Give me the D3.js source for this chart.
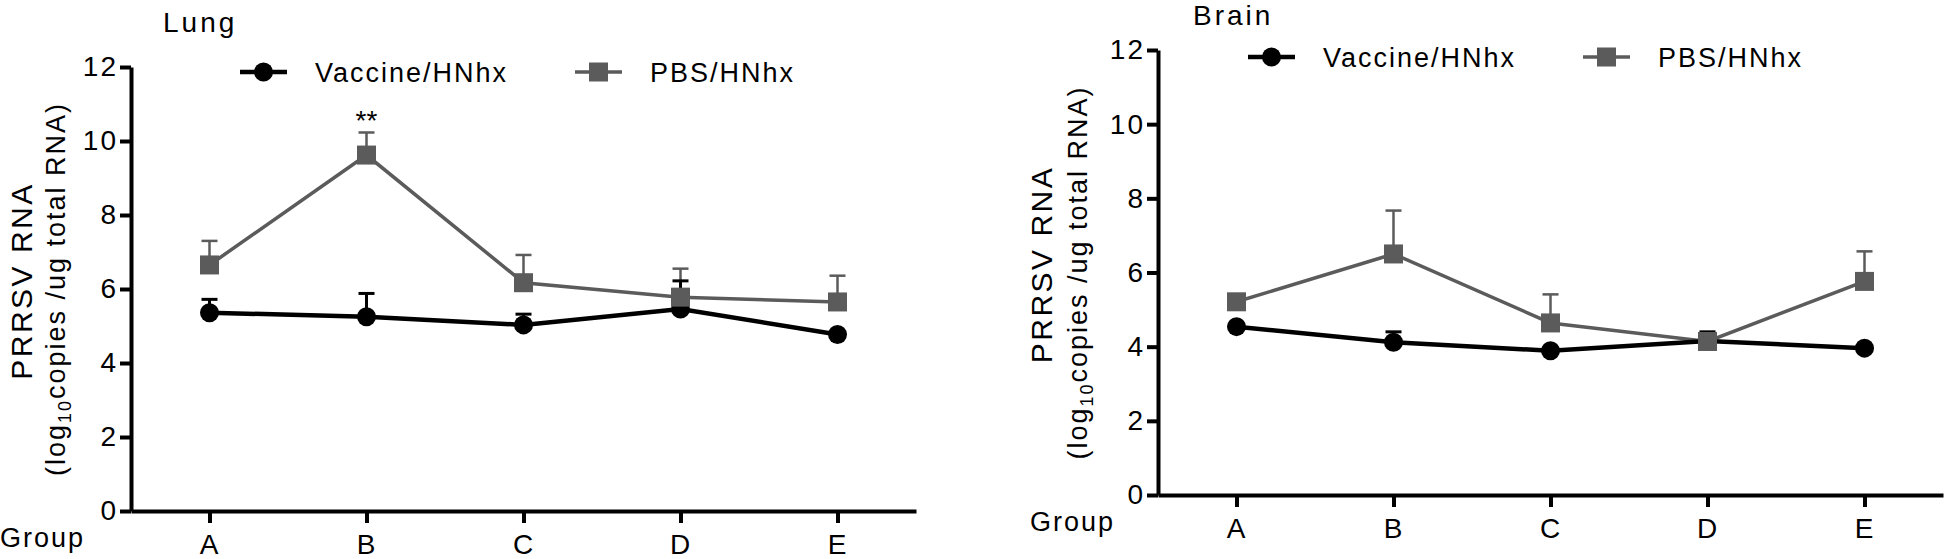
<!DOCTYPE html>
<html>
<head>
<meta charset="utf-8">
<script src="https://cdn.jsdelivr.net/npm/d3@7"></script>
<style>
  body { margin: 0; background: #fff; }
  text { font-family: "Liberation Sans", Arial, sans-serif; fill: #000; }
</style>
</head>
<body>
<div id="chart"></div>
<script>
// groups on the x axis
var groups = ["A", "B", "C", "D", "E"];
var yTicks = [0, 2, 4, 6, 8, 10, 12];
var seriesNames = ["Vaccine/HNhx", "PBS/HNhx"];

// lung values (mean and upper error)
var lungVaccine = [5.36, 5.25, 5.03, 5.46, 4.77];
var lungVaccineErr = [0.36, 0.63, 0.29, 0.76, 0.05];
var lungPBS = [6.65, 9.62, 6.17, 5.78, 5.65];
var lungPBSErr = [0.65, 0.61, 0.75, 0.77, 0.71];

// brain values
var brainVaccine = [4.54, 4.12, 3.89, 4.15, 3.96];
var brainVaccineErr = [0.05, 0.28, 0.05, 0.25, 0.05];
var brainPBS = [5.21, 6.50, 4.64, 4.14, 5.76];
var brainPBSErr = [0.1, 1.17, 0.77, 0.1, 0.81];

var grey = "#5b5b5b";
var fs = 27, ls = "2px";

var svg = d3.select("#chart").append("svg")
    .attr("width", 1946)
    .attr("height", 559);

function drawPanel(p) {
  var g = svg.append("g");

  var x = d3.scalePoint().domain(groups).range([p.left, p.right]).padding(0.5);
  var y = d3.scaleLinear().domain([0, 12]).range([p.bottom, p.top]);

  // y axis
  var yAx = g.append("g")
      .attr("transform", `translate(${p.left},0)`)
      .call(d3.axisLeft(y).tickValues(yTicks).tickSize(11).tickSizeOuter(0).tickPadding(2));
  // x axis
  var xAx = g.append("g")
      .attr("transform", `translate(0,${p.bottom})`)
      .call(d3.axisBottom(x).tickSize(12).tickSizeOuter(0).tickPadding(11));

  [yAx, xAx].forEach(function(ax) {
    ax.select(".domain").attr("stroke", "#000").attr("stroke-width", 4);
    ax.selectAll(".tick line").attr("stroke", "#000").attr("stroke-width", 4);
    ax.selectAll(".tick text")
      .attr("font-size", 28)
      .style("letter-spacing", ls)
      .attr("fill", "#000");
  });

  var series = [
    {name: seriesNames[0], vals: p.vaccine, err: p.vaccineErr, color: "#000", lw: 4.5, ew: 3, shape: "circle"},
    {name: seriesNames[1], vals: p.pbs, err: p.pbsErr, color: grey, lw: 3.5, ew: 2.5, shape: "square"}
  ];

  var line = d3.line().x((d, i) => x(groups[i])).y(d => y(d));

  // lines
  series.slice().reverse().forEach(function(s) {
    g.append("path")
      .datum(s.vals)
      .attr("d", line)
      .attr("fill", "none")
      .attr("stroke", s.color)
      .attr("stroke-width", s.lw);
  });

  // error bars (upper only)
  series.slice().reverse().forEach(function(s) {
    var eb = g.append("g");
    eb.selectAll("line.v")
      .data(s.vals)
      .enter().append("line")
      .attr("x1", (d, i) => x(groups[i]))
      .attr("x2", (d, i) => x(groups[i]))
      .attr("y1", d => y(d))
      .attr("y2", (d, i) => y(d + s.err[i]))
      .attr("stroke", s.color)
      .attr("stroke-width", s.ew);
    eb.selectAll("line.cap")
      .data(s.vals)
      .enter().append("line")
      .attr("x1", (d, i) => x(groups[i]) - 8)
      .attr("x2", (d, i) => x(groups[i]) + 8)
      .attr("y1", (d, i) => y(d + s.err[i]))
      .attr("y2", (d, i) => y(d + s.err[i]))
      .attr("stroke", s.color)
      .attr("stroke-width", s.ew);
  });

  // markers
  g.selectAll("circle.pt")
    .data(series[0].vals)
    .enter().append("circle")
    .attr("cx", (d, i) => x(groups[i]))
    .attr("cy", d => y(d))
    .attr("r", 9.5)
    .attr("fill", "#000");
  g.selectAll("rect.pt")
    .data(series[1].vals)
    .enter().append("rect")
    .attr("x", (d, i) => x(groups[i]) - 9.5)
    .attr("y", d => y(d) - 9.5)
    .attr("width", 19)
    .attr("height", 19)
    .attr("fill", grey);

  // significance mark
  if (p.star != null) {
    var i = p.star;
    g.append("text")
      .attr("x", x(groups[i]))
      .attr("y", y(p.pbs[i] + p.pbsErr[i]) - 2)
      .attr("text-anchor", "middle")
      .attr("font-size", 28)
      .text("**");
  }

  // title
  g.append("text")
    .attr("x", p.titleX)
    .attr("y", p.titleY)
    .attr("font-size", 28)
    .style("letter-spacing", "3px")
    .text(p.title);

  // Group label
  g.append("text")
    .attr("x", p.groupX)
    .attr("y", p.bottom + 36)
    .attr("font-size", fs)
    .style("letter-spacing", ls)
    .text("Group");

  // y axis label, two lines
  var cy = (p.top + p.bottom) / 2;
  g.append("text")
    .attr("transform", `translate(${p.left + p.lab1},${cy - 8}) rotate(-90)`)
    .attr("text-anchor", "middle")
    .attr("font-size", 30)
    .style("letter-spacing", "2.5px")
    .text("PRRSV RNA");
  var t2 = g.append("text")
    .attr("transform", `translate(${p.left + p.lab2},${cy}) rotate(-90)`)
    .attr("text-anchor", "middle")
    .attr("font-size", fs)
    .style("letter-spacing", ls);
  t2.append("tspan").text("(log");
  t2.append("tspan").attr("font-size", 18).attr("dy", 6).text("10");
  t2.append("tspan").attr("dy", -6).text("copies /ug total RNA)");

  // legend
  var lg = g.append("g").attr("transform", `translate(0,${p.legY})`);
  var lx = [p.leg1, p.leg2];
  series.forEach(function(s, k) {
    lg.append("line")
      .attr("x1", lx[k]).attr("x2", lx[k] + 47)
      .attr("stroke", s.color)
      .attr("stroke-width", s.lw);
    if (s.shape == "circle") {
      lg.append("circle").attr("cx", lx[k] + 23.5).attr("r", 9.5).attr("fill", s.color);
    } else {
      lg.append("rect").attr("x", lx[k] + 14).attr("y", -9.5)
        .attr("width", 19).attr("height", 19).attr("fill", s.color);
    }
    lg.append("text")
      .attr("x", lx[k] + 75)
      .attr("y", 10)
      .attr("font-size", fs)
      .style("letter-spacing", ls)
      .text(s.name);
  });
}

drawPanel({
  left: 131, right: 916, top: 67, bottom: 511,
  vaccine: lungVaccine, vaccineErr: lungVaccineErr,
  pbs: lungPBS, pbsErr: lungPBSErr,
  star: 1,
  title: "Lung", titleX: 163, titleY: 32,
  groupX: 0,
  lab1: -99, lab2: -66,
  legY: 72, leg1: 240, leg2: 575
});

drawPanel({
  left: 1158, right: 1943, top: 50, bottom: 495,
  vaccine: brainVaccine, vaccineErr: brainVaccineErr,
  pbs: brainPBS, pbsErr: brainPBSErr,
  star: null,
  title: "Brain", titleX: 1193, titleY: 25,
  groupX: 1030,
  lab1: -106, lab2: -71,
  legY: 57, leg1: 1248, leg2: 1583
});
</script>
</body>
</html>
